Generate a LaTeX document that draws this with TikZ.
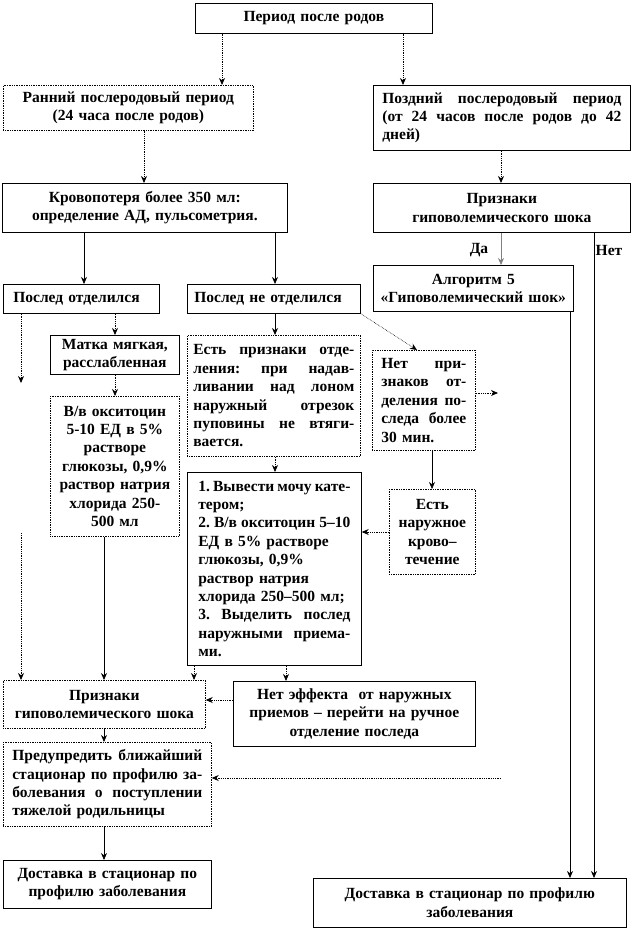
\documentclass[tikz,border=0pt]{standalone}
\usepackage{fontspec}
\setmainfont{Liberation Serif}
\usetikzlibrary{arrows.meta,calc}
\def\curw{100pt}
\newcommand\jl[1]{\leavevmode\hbox to\curw{\spaceskip=0.25em plus 1fil minus 0.05em\relax #1}}
\frenchspacing
\begin{document}
\begin{tikzpicture}[x=1pt,y=-1pt,
  every node/.style={font=\fontsize{15.5}{18.4}\selectfont\bfseries},
  bx/.style={draw, line width=0.7pt, anchor=north west, inner ysep=0pt, inner xsep=8pt},
  dbx/.style={bx, densely dotted},
  jw/.style={text width=#1pt, execute at begin node={\def\curw{#1pt}}},
  dotarr/.style={densely dotted, line width=0.8pt, -{Stealth[length=7pt,width=6pt]}},
  solarr/.style={line width=0.7pt, -{Stealth[length=7pt,width=6pt]}},
  lbl/.style={inner sep=1pt}]
\useasboundingbox (0,0) rectangle (632,931);
\fill[white] (0,0) rectangle (632,931);

% boxes
\node[bx, minimum width=237pt, minimum height=30pt, text width=221pt, align=center] (A) at (195,3) {Период после родов};
\node[dbx, minimum width=250pt, minimum height=45pt, text width=234pt, align=center] (R) at (3,85) {Ранний послеродовый период\\(24 часа после родов)};
\node[bx, minimum width=257pt, minimum height=65pt, inner xsep=9pt, jw=239, align=left] (P) at (373,85) {\jl{Поздний послеродовый период}\\\jl{(от 24 часов после родов до 42}\\дней)};
\node[bx, minimum width=285pt, minimum height=49pt, text width=269pt, align=center] (K) at (2,183) {Кровопотеря более 350 мл:\\определение АД, пульсометрия.};
\node[bx, minimum width=257pt, minimum height=49pt, text width=241pt, align=center] (S1) at (373,183) {Признаки\\гиповолемического шока};
\node[bx, minimum width=200pt, minimum height=46pt, text width=190pt, inner xsep=5pt, align=center] (Al) at (373,265) {Алгоритм 5\\«Гиповолемический шок»};
\node[bx, minimum width=156pt, minimum height=29pt, inner xsep=10pt, text width=136pt, align=left] (PO) at (3,284) {Послед отделился};
\node[bx, minimum width=173pt, minimum height=29pt, inner xsep=7pt, text width=159pt, align=left] (PN) at (187,284) {Послед не отделился};
\node[bx, minimum width=129pt, minimum height=39pt, inner xsep=4pt, text width=121pt, align=center] (M) at (50,335) {Матка мягкая,\\расслабленная};
\node[dbx, minimum width=129pt, minimum height=140pt, inner xsep=4pt, text width=121pt, align=center] (V) at (50,396) {В/в окситоцин\\5-10 ЕД в 5\%\\растворе\\глюкозы, 0,9\%\\раствор натрия\\хлорида 250-\\500 мл};
\node[dbx, minimum width=173pt, minimum height=121pt, inner xsep=6pt, jw=161, align=left] (E) at (187,335) {\jl{Есть признаки отде-}\\\jl{ления: при надав-}\\\jl{ливании над лоном}\\\jl{наружный отрезок}\\\jl{пуповины не втяги-}\\вается.};
\node[dbx, minimum width=103pt, minimum height=100pt, inner xsep=9pt, jw=85, align=left] (NP) at (372,350) {\jl{Нет при-}\\\jl{знаков от-}\\\jl{деления по-}\\\jl{следа более}\\30 мин.};
\node[dbx, minimum width=86pt, minimum height=85pt, inner xsep=3pt, text width=80pt, align=center] (EN) at (389,489) {Есть\\наружное\\крово–\\течение};
\node[bx, minimum width=174pt, minimum height=193pt, inner xsep=11pt, jw=152, align=left] (B1) at (187,472) {\jl{1. Вывести мочу кате-}\\тером;\\\jl{2. В/в окситоцин 5–10}\\ЕД в 5\% растворе\\глюкозы, 0,9\%\\раствор натрия\\хлорида 250–500 мл;\\\jl{3. Выделить послед}\\\jl{наружными приема-}\\ми.};
\node[dbx, minimum width=202pt, minimum height=48pt, text width=186pt, align=center] (S2) at (3,680) {Признаки\\гиповолемического шока};
\node[bx, minimum width=242pt, minimum height=65pt, text width=226pt, align=center] (NE) at (233,681) {Нет эффекта~ от наружных\\приемов – перейти на ручное\\отделение последа};
\node[dbx, minimum width=208pt, minimum height=84pt, inner xsep=9pt, jw=190, align=left] (PR) at (3,742) {\jl{Предупредить ближайший}\\\jl{стационар по профилю за-}\\\jl{болевания о поступлении}\\тяжелой родильницы};
\node[bx, minimum width=208pt, minimum height=48pt, text width=192pt, align=center] (DL) at (3,860) {Доставка в стационар по\\профилю заболевания};
\node[bx, minimum width=313pt, minimum height=49pt, text width=297pt, align=center] (DR) at (313,878) {Доставка в стационар по профилю\\заболевания};

% labels
\node[lbl] (da) at (479,250) {Да};
\node[lbl] (net) at (609,250) {Нет};

% free ends
\coordinate (L1e) at (21,383);
\coordinate (L2s) at (21,533);
\coordinate (NPr) at (498,393);
\coordinate (Rs) at (501,778);

% connectors
\draw[dotarr] (A.south -| 222,0) -- (R.north -| 222,0);
\draw[dotarr] (A.south -| 403,0) -- (P.north -| 403,0);
\draw[dotarr] (R.south -| 144,0) -- (K.north -| 144,0);
\draw[dotarr] (P.south -| 501,0) -- (S1.north -| 501,0);
\draw[solarr] (K.south -| 84,0) -- (PO.north -| 84,0);
\draw[solarr] (K.south -| 275,0) -- (PN.north -| 275,0);
\draw[solarr, draw=gray] (S1.south -| 501,0) -- (Al.north -| 501,0);
\draw[solarr] (S1.south -| 594,0) -- (DR.north -| 594,0);
\draw[solarr] (Al.south -| 570,0) -- (DR.north -| 570,0);
\draw[dotarr] (PO.south -| 21,0) -- (L1e);
\draw[dotarr] (PO.south -| 115,0) -- (M.north -| 115,0);
\draw[solarr] (PN.south -| 275,0) -- (E.north -| 275,0);
\draw[dotarr, line width=0.6pt] (PN.south east) -- (NP.north -| 417,0);
\draw[dotarr] (M.south -| 115,0) -- (V.north -| 115,0);
\draw[dotarr] (E.south -| 275,0) -- (B1.north -| 275,0);
\draw[solarr] (NP.south -| 432,0) -- (EN.north -| 432,0);
\draw[dotarr] (NP.east |- 0,393) -- (NPr);
\draw[dotarr] (EN.west |- 0,532) -- (B1.east |- 0,532);
\draw[solarr] (V.south -| 104,0) -- (S2.north -| 104,0);
\draw[dotarr] (L2s) -- (S2.north -| 21,0);
\draw[dotarr] (B1.south -| 194,0) -- (S2.north -| 194,0);
\draw[dotarr] (B1.south -| 286,0) -- (NE.north -| 286,0);
\draw[dotarr] (NE.west |- 0,700) -- (S2.east |- 0,700);
\draw[solarr] (S2.south -| 104,0) -- (PR.north -| 104,0);
\draw[dotarr] (Rs) -- (PR.east |- 0,778);
\draw[solarr] (PR.south -| 104,0) -- (DL.north -| 104,0);
\end{tikzpicture}
\end{document}
